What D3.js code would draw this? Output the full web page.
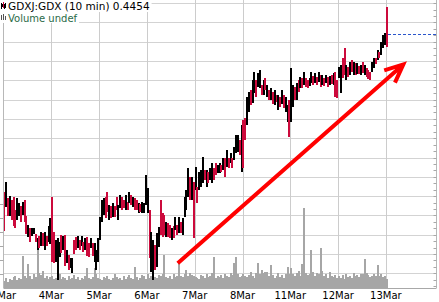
<!DOCTYPE html>
<html>
<head>
<meta charset="utf-8">
<script src="https://cdnjs.cloudflare.com/ajax/libs/d3/7.8.5/d3.min.js"></script>
<style>
body { margin: 0; background: #fff; }
</style>
</head>
<body>
<div id="chart"></div>
<script>
// trading days shown on the x axis
var days = ["1Mar", "4Mar", "5Mar", "6Mar", "7Mar", "8Mar", "11Mar", "12Mar", "13Mar"];
var barsPerDay = 26;

// GDXJ:GDX ratio
var highs = [
 // 1Mar
 0.4060,0.4085,0.4045,0.4050,0.4040,0.4047,0.4015,0.4045,0.4032,0.4025,0.4035,0.4040,0.4000,0.3977,0.3970,0.3970,0.3970,0.3955,0.3945,0.3950,0.3960,0.3957,0.3960,0.3950,0.3975,0.3995,
 // 4Mar
 0.4047,0.3960,0.3940,0.3945,0.3935,0.3952,0.3950,0.3952,0.3915,0.3902,0.3895,0.3895,0.3940,0.3947,0.3950,0.3940,0.3950,0.3935,0.3945,0.3947,0.3932,0.3945,0.3932,0.3932,0.3915,0.3945,
 // 5Mar
 0.3997,0.4040,0.4045,0.4047,0.4060,0.4027,0.4025,0.4032,0.4025,0.4047,0.4027,0.4052,0.4047,0.4040,0.4052,0.4035,0.4060,0.4052,0.4047,0.4045,0.4040,0.4032,0.4030,0.4035,0.4032,0.4102,
 // 6Mar
 0.4070,0.4015,0.3960,0.3940,0.3927,0.3957,0.3972,0.4040,0.4007,0.4002,0.3985,0.3982,0.3977,0.3970,0.3975,0.3997,0.3977,0.3997,0.3985,0.3995,0.4047,0.4065,0.4120,0.4097,0.4097,0.4085,
 // 7Mar
 0.4122,0.4072,0.4110,0.4115,0.4147,0.4115,0.4115,0.4110,0.4120,0.4132,0.4120,0.4132,0.4127,0.4132,0.4127,0.4145,0.4145,0.4165,0.4145,0.4157,0.4145,0.4172,0.4202,0.4202,0.4190,0.4227,
 // 8Mar
 0.4240,0.4245,0.4297,0.4310,0.4315,0.4340,0.4360,0.4340,0.4357,0.4365,0.4327,0.4340,0.4345,0.4327,0.4315,0.4320,0.4310,0.4315,0.4302,0.4302,0.4297,0.4315,0.4302,0.4297,0.4277,0.4290,
 // 11Mar
 0.4370,0.4327,0.4322,0.4332,0.4340,0.4347,0.4345,0.4360,0.4345,0.4340,0.4345,0.4360,0.4350,0.4357,0.4347,0.4360,0.4352,0.4352,0.4345,0.4352,0.4347,0.4350,0.4352,0.4357,0.4360,0.4340,
 // 12Mar
 0.4372,0.4377,0.4395,0.4420,0.4377,0.4372,0.4385,0.4390,0.4385,0.4382,0.4382,0.4375,0.4377,0.4385,0.4377,0.4370,0.4365,0.4360,0.4385,0.4395,0.4395,0.4415,0.4410,0.4435,0.4452,0.4457,
 // 13Mar
 0.4522
];
var lows = [
 0.3962,0.4022,0.4000,0.4000,0.3990,0.3975,0.3970,0.3990,0.4000,0.3985,0.4002,0.3985,0.3955,0.3947,0.3935,0.3950,0.3955,0.3935,0.3915,0.3920,0.3925,0.3925,0.3915,0.3925,0.3935,0.3930,
 0.3885,0.3882,0.3885,0.3840,0.3897,0.3907,0.3915,0.3875,0.3882,0.3865,0.3870,0.3857,0.3905,0.3915,0.3920,0.3915,0.3925,0.3910,0.3915,0.3900,0.3897,0.3920,0.3900,0.3885,0.3865,0.3885,
 0.3940,0.3985,0.4002,0.3995,0.4010,0.3990,0.3995,0.3997,0.3997,0.4015,0.3990,0.4020,0.4015,0.4020,0.4015,0.4015,0.4032,0.4027,0.4022,0.4015,0.4015,0.4007,0.4010,0.4007,0.4007,0.4027,
 0.4007,0.3895,0.3860,0.3840,0.3865,0.3872,0.3922,0.3952,0.3947,0.3952,0.3947,0.3947,0.3945,0.3940,0.3945,0.3965,0.3952,0.3957,0.3957,0.3952,0.3997,0.4015,0.4047,0.4040,0.4040,0.3945,
 0.4065,0.4032,0.4065,0.4072,0.4082,0.4090,0.4072,0.4082,0.4090,0.4082,0.4090,0.4102,0.4107,0.4107,0.4110,0.4115,0.4097,0.4122,0.4120,0.4132,0.4120,0.4140,0.4157,0.4160,0.4152,0.4110,
 0.4120,0.4190,0.4227,0.4260,0.4277,0.4282,0.4307,0.4297,0.4322,0.4320,0.4302,0.4302,0.4315,0.4297,0.4290,0.4290,0.4280,0.4277,0.4285,0.4265,0.4272,0.4280,0.4270,0.4260,0.4235,0.4197,
 0.4235,0.4272,0.4290,0.4290,0.4310,0.4320,0.4320,0.4327,0.4322,0.4320,0.4325,0.4332,0.4327,0.4332,0.4327,0.4335,0.4322,0.4327,0.4325,0.4332,0.4322,0.4327,0.4330,0.4327,0.4297,0.4295,
 0.4345,0.4307,0.4345,0.4352,0.4340,0.4347,0.4352,0.4360,0.4352,0.4352,0.4355,0.4355,0.4352,0.4357,0.4352,0.4347,0.4342,0.4340,0.4360,0.4370,0.4380,0.4390,0.4395,0.4402,0.4420,0.4427,
 0.4422
];
// u = closed up (black), d = closed down (red)
var dayDirs = [
 "dudud dduud uddud uudud ududu u",
 "dduuu dudud uuddu dudud duduu u",
 "uuudd ududd uuddu dudud duduu u",
 "uduud uuddd uddud ududu uuudu d",
 "uduuu duduu dduud ududu duuud u",
 "dduud uuduu dudud ududu duduu d",
 "uudud ududd uudud ududu dudud d",
 "uuddu dudud ududu ddduu duduu u",
 "d"
];
var volumes = [
 7,10,6,9,8,11,12,8,10,9,32,12,10,24,12,9,14,11,38,15,13,17,10,12,9,11,
 12,9,10,8,14,9,11,10,8,12,9,10,13,9,11,8,10,9,12,20,10,9,11,20,14,10,
 9,8,11,10,12,9,8,10,14,11,9,10,8,12,9,11,13,10,9,21,11,8,10,13,12,9,
 14,10,12,9,11,10,13,12,14,33,11,10,12,9,14,11,12,25,12,11,14,18,12,15,13,12,
 11,10,9,13,12,10,14,11,12,15,31,10,12,11,13,10,14,12,11,15,13,25,31,14,11,12,
 14,12,11,13,16,12,10,15,25,14,18,15,16,16,12,23,13,10,12,15,11,13,10,14,21,14,
 20,14,12,15,17,12,24,80,15,13,14,38,16,12,15,14,40,17,12,14,10,16,12,11,13,10,
 12,10,13,9,14,11,12,10,15,12,13,11,14,14,29,15,13,11,12,14,12,23,12,14,11,12,
 9
];
var lastPrice = 0.4454;
var title = "GDXJ:GDX (10 min) 0.4454";
var volumeTitle = "Volume undef";

// grid step on the price axis and its top line
var gridTop = 0.453225, gridStep = 0.004825;
var volumeTicks = [14, 28, 42, 56, 70, 84];

// arrow drawn over the chart, in day / price units
var arrowFrom = [3.645, 0.3882], arrowTo = [8.364, 0.4379];

var dirs = dayDirs.join("").replace(/ /g, "");

var width = 439, height = 302;
var plotLeft = 3.5, plotRight = 436.5, plotTop = 0, plotBottom = 288;

var svg = d3.select("#chart")
    .append("svg")
    .attr("width", width)
    .attr("height", height)
    .style("font-family", "'DejaVu Sans', Verdana, sans-serif");

var x = d3.scaleLinear().domain([0, 8]).range([3.5, 385.9]);
var y = d3.scaleLinear().domain([0.3820, 0.4540]).range([288, 0]);
var yVol = d3.scaleLinear().domain([0, 100]).range([288, 188]);

function barX(i) {
    var d = Math.floor(i / barsPerDay), j = i % barsPerDay;
    return x(d + (j + 0.5) / barsPerDay);
}

// grid
var priceGrid = d3.range(15).map(function(k) { return gridTop - k * gridStep; });
svg.append("g").selectAll("line")
    .data(priceGrid)
    .enter().append("line")
    .attr("x1", plotLeft).attr("x2", plotRight)
    .attr("y1", function(d) { return Math.round(y(d)) + 0.5; })
    .attr("y2", function(d) { return Math.round(y(d)) + 0.5; })
    .style("stroke", "#d3d3d3");

svg.append("g").selectAll("line")
    .data(d3.range(1, days.length))
    .enter().append("line")
    .attr("x1", function(d) { return Math.round(x(d)) + 0.5; })
    .attr("x2", function(d) { return Math.round(x(d)) + 0.5; })
    .attr("y1", plotTop).attr("y2", plotBottom)
    .style("stroke", "#cccccc");

// volume
svg.append("g").selectAll("rect")
    .data(volumes)
    .enter().append("rect")
    .attr("x", function(d, i) { return Math.round(barX(i) - 1); })
    .attr("width", 2)
    .attr("y", function(d) { return Math.round(yVol(d)); })
    .attr("height", function(d) { return plotBottom - Math.round(yVol(d)); })
    .style("fill", "#a6a6a6")
    .attr("shape-rendering", "crispEdges");

// price bars
svg.append("g").selectAll("rect")
    .data(highs)
    .enter().append("rect")
    .attr("x", function(d, i) { return Math.round(barX(i)) - 1; })
    .attr("width", 2)
    .attr("y", function(d) { return Math.round(y(d)); })
    .attr("height", function(d, i) { return Math.max(1, Math.round(y(lows[i])) - Math.round(y(d))); })
    .style("fill", function(d, i) { return dirs[i] === "d" ? "#cc0a3c" : "#000"; })
    .attr("shape-rendering", "crispEdges");

// last price
var lastX = barX(highs.length - 1) + 1;
svg.append("line")
    .attr("x1", Math.round(lastX)).attr("x2", plotRight)
    .attr("y1", Math.round(y(lastPrice)) + 0.5).attr("y2", Math.round(y(lastPrice)) + 0.5)
    .style("stroke", "#2a55cc")
    .style("stroke-dasharray", "3,2");

// arrow
var ax1 = x(arrowFrom[0]), ay1 = y(arrowFrom[1]), ax2 = x(arrowTo[0]), ay2 = y(arrowTo[1]);
var ang = Math.atan2(ay1 - ay2, ax1 - ax2);
var headLen = 20, headAng = 24 * Math.PI / 180;
var arrowPath = "M" + ax1 + "," + ay1 + "L" + ax2 + "," + ay2 +
    "M" + (ax2 + headLen * Math.cos(ang + headAng)) + "," + (ay2 + headLen * Math.sin(ang + headAng)) +
    "L" + ax2 + "," + ay2 +
    "L" + (ax2 + headLen * Math.cos(ang - headAng)) + "," + (ay2 + headLen * Math.sin(ang - headAng));
svg.append("path")
    .attr("d", arrowPath)
    .style("fill", "none")
    .style("stroke", "#ff0000")
    .style("stroke-width", 4);

// frame and ticks
svg.append("line")
    .attr("x1", plotLeft).attr("x2", plotLeft).attr("y1", plotTop).attr("y2", plotBottom)
    .style("stroke", "#b8b8b8");
svg.append("line")
    .attr("x1", plotRight).attr("x2", plotRight).attr("y1", plotTop).attr("y2", plotBottom)
    .style("stroke", "#b8b8b8");
svg.append("line")
    .attr("x1", plotLeft).attr("x2", plotRight).attr("y1", plotBottom + 0.5).attr("y2", plotBottom + 0.5)
    .style("stroke", "#a8a8a8");

var minorTicks = d3.range(45).map(function(k) { return gridTop - k * gridStep / 3; })
    .filter(function(d) { return y(d) < plotBottom - 1; });
svg.append("g").selectAll("line")
    .data(minorTicks)
    .enter().append("line")
    .attr("x1", plotRight - 3).attr("x2", plotRight)
    .attr("y1", function(d) { return Math.round(y(d)) + 0.5; })
    .attr("y2", function(d) { return Math.round(y(d)) + 0.5; })
    .style("stroke", "#a8a8a8");

svg.append("g").selectAll("line")
    .data(volumeTicks)
    .enter().append("line")
    .attr("x1", 0).attr("x2", plotLeft)
    .attr("y1", function(d) { return Math.round(yVol(d)) + 0.5; })
    .attr("y2", function(d) { return Math.round(yVol(d)) + 0.5; })
    .style("stroke", "#a8a8a8");

// day labels
svg.append("g").selectAll("text")
    .data(days)
    .enter().append("text")
    .attr("x", function(d, i) { return x(i); })
    .attr("y", 299)
    .attr("text-anchor", "middle")
    .attr("font-size", "10px")
    .attr("fill", "#000")
    .text(function(d) { return d; });

// legend: each line sits on its own white box
var legend = svg.append("g");
var box1 = legend.append("rect").style("fill", "#fff");
var box2 = legend.append("rect").style("fill", "#fff");
var t1 = legend.append("text")
    .attr("x", 8).attr("y", 9.5)
    .attr("font-size", "10.5px")
    .attr("fill", "#000")
    .text(title);
var t2 = legend.append("text")
    .attr("x", 8).attr("y", 21.5)
    .attr("font-size", "10px")
    .attr("fill", "#2a6a48")
    .text(volumeTitle);
box1.attr("x", 0).attr("y", 0).attr("width", 8 + t1.node().getComputedTextLength() + 2).attr("height", 12);
box2.attr("x", 0).attr("y", 12).attr("width", 8 + t2.node().getComputedTextLength() + 2).attr("height", 11);

// small legend icons
var icon = legend.append("g").attr("shape-rendering", "crispEdges");
icon.append("rect").attr("x", 1).attr("y", 3).attr("width", 1).attr("height", 6).style("fill", "#000");
icon.append("rect").attr("x", 2).attr("y", 4).attr("width", 1).attr("height", 3).style("fill", "#000");
icon.append("rect").attr("x", 3).attr("y", 2).attr("width", 1).attr("height", 6).style("fill", "#cc0a3c");
icon.append("rect").attr("x", 4).attr("y", 4).attr("width", 1).attr("height", 5).style("fill", "#000");
icon.append("rect").attr("x", 5).attr("y", 3).attr("width", 1).attr("height", 5).style("fill", "#000");
icon.append("rect").attr("x", 1).attr("y", 15).attr("width", 1).attr("height", 5).style("fill", "#555");
icon.append("rect").attr("x", 3).attr("y", 14).attr("width", 1).attr("height", 6).style("fill", "#555");
icon.append("rect").attr("x", 5).attr("y", 16).attr("width", 1).attr("height", 4).style("fill", "#555");
</script>
</body>
</html>
